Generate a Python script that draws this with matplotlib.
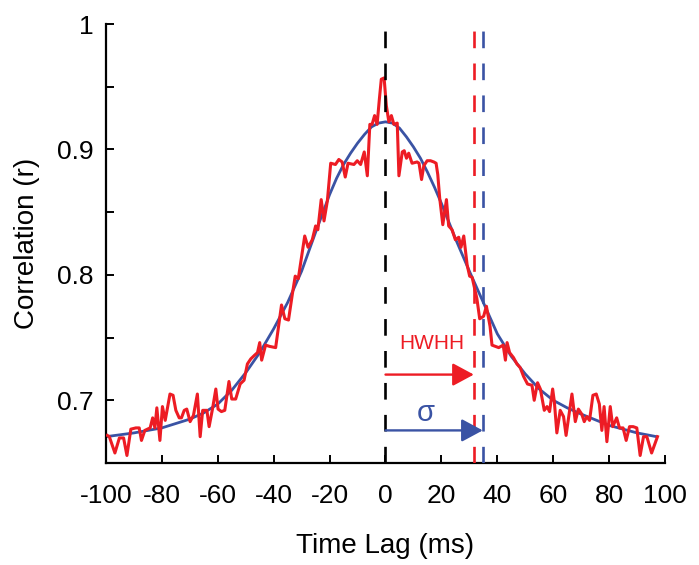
import matplotlib
matplotlib.use("Agg")
import matplotlib.pyplot as plt

plt.rcParams['font.family'] = ['Liberation Sans', 'DejaVu Sans']

# ---- data ----
red_x = [-99.5, -98.8, -96.8, -95.2, -93.7, -92.5, -91.1, -89.3, -88.1, -87.3, -86.1, -84.2, -83.3,
         -82.5, -81.8, -80.7, -79.8, -78.8, -77.1, -76.0, -75.0, -73.8, -73.0, -72.0, -71.1, -69.9,
         -68.7, -67.3, -66.3, -65.4, -63.9, -63.1, -61.9, -60.7, -59.9, -58.7, -57.5, -56.0, -55.0,
         -53.6, -52.0, -50.6, -49.4, -48.2, -46.8, -45.8, -45.0, -44.3, -42.9, -41.5, -39.3, -38.2,
         -37.2, -36.0, -34.7, -33.3, -32.3, -31.2, -30.0, -28.9, -27.7, -26.2, -25.0, -24.2, -23.0,
         -22.0, -20.8, -19.6, -17.9, -16.7, -15.5, -14.4, -13.4, -11.3, -10.1, -8.9, -7.6, -6.5,
         -5.6, -4.8, -3.9, -3.0, -2.2, -1.5, -0.5, 0.3, 1.2, 2.1, 3.0, 4.2, 4.8, 6.0, 6.7, 7.5, 8.3,
         9.5, 11.3, 12.0, 12.9, 13.7, 14.9, 16.1, 17.3, 18.1, 18.7, 19.4, 20.5, 21.8, 22.6, 23.8,
         25.0, 26.2, 27.0, 28.0, 29.2, 30.1, 31.0, 31.8, 32.7, 33.7, 35.1, 36.1, 37.4, 38.1, 40.5,
         42.1, 42.9, 43.5, 44.4, 45.8, 47.0, 48.2, 49.4, 50.8, 52.4, 53.2, 54.4, 55.4, 56.8, 57.8,
         58.7, 59.8, 60.4, 61.3, 62.5, 63.7, 64.6, 66.7, 67.9, 69.0, 70.2, 71.1, 72.0, 73.0, 74.2,
         75.4, 76.5, 77.4, 78.2, 79.2, 80.4, 81.3, 82.7, 83.7, 85.0, 86.1, 87.3, 88.6, 89.9, 91.1,
         92.3, 93.5, 95.2, 97.3]
red_y = [0.672, 0.671, 0.658, 0.670, 0.670, 0.656, 0.677, 0.678, 0.678, 0.668, 0.676, 0.678, 0.686,
         0.678, 0.694, 0.668, 0.695, 0.684, 0.705, 0.704, 0.692, 0.686, 0.686, 0.692, 0.693, 0.683,
         0.688, 0.705, 0.671, 0.692, 0.692, 0.679, 0.693, 0.709, 0.693, 0.691, 0.692, 0.715, 0.701,
         0.701, 0.713, 0.716, 0.729, 0.733, 0.736, 0.738, 0.746, 0.732, 0.744, 0.743, 0.742, 0.760,
         0.776, 0.765, 0.764, 0.785, 0.799, 0.797, 0.815, 0.831, 0.822, 0.828, 0.839, 0.836, 0.860,
         0.843, 0.859, 0.889, 0.888, 0.892, 0.890, 0.878, 0.889, 0.888, 0.891, 0.888, 0.898, 0.879,
         0.920, 0.920, 0.927, 0.920, 0.940, 0.956, 0.957, 0.935, 0.922, 0.927, 0.920, 0.921, 0.879,
         0.898, 0.899, 0.893, 0.897, 0.889, 0.890, 0.889, 0.876, 0.887, 0.891, 0.891, 0.890, 0.889,
         0.880, 0.861, 0.840, 0.860, 0.839, 0.836, 0.828, 0.830, 0.822, 0.831, 0.808, 0.799, 0.798,
         0.790, 0.781, 0.765, 0.767, 0.775, 0.759, 0.744, 0.742, 0.744, 0.732, 0.746, 0.738, 0.734,
         0.729, 0.726, 0.719, 0.713, 0.712, 0.700, 0.714, 0.709, 0.692, 0.695, 0.691, 0.709, 0.699,
         0.674, 0.692, 0.687, 0.672, 0.705, 0.683, 0.693, 0.689, 0.683, 0.687, 0.684, 0.704, 0.705,
         0.697, 0.676, 0.695, 0.667, 0.695, 0.679, 0.686, 0.678, 0.678, 0.668, 0.679, 0.679, 0.678,
         0.656, 0.671, 0.671, 0.658, 0.671]

blue_x = [-100, -90, -80, -70, -65, -60, -55, -50, -45, -40, -35, -30, -25, -20, -17.5, -15,
          -12.5, -10, -7.5, -5, -2.5, 0, 2.5, 5, 7.5, 10, 12.5, 15, 17.5, 20, 25, 30, 35, 40,
          45, 50, 55, 60, 65, 70, 80, 90, 97]
blue_y = [0.671, 0.674, 0.678, 0.685, 0.690, 0.697, 0.708, 0.722, 0.738, 0.757, 0.778, 0.803,
          0.834, 0.864, 0.877, 0.888, 0.897, 0.905, 0.912, 0.918, 0.921, 0.922, 0.921, 0.917,
          0.910, 0.902, 0.893, 0.882, 0.870, 0.857, 0.829, 0.803, 0.778, 0.753, 0.735, 0.721,
          0.709, 0.700, 0.694, 0.689, 0.680, 0.674, 0.671]

hwhh = 31.6
sigma = 34.8
hwhh_arrow_y = 0.7205
sigma_arrow_y = 0.676

x_ticks = [-100, -80, -60, -40, -20, 0, 20, 40, 60, 80, 100]
y_major = [0.7, 0.8, 0.9, 1.0]
y_major_labels = ['0.7', '0.8', '0.9', '1']
y_minor = [0.75, 0.85, 0.95]

RED = '#ed1c24'
BLUE = '#3a53a4'

fig = plt.figure(figsize=(6.99, 5.65), dpi=100)
ax = fig.add_axes([0.1516, 0.1805, 0.7998, 0.777])

ax.plot(blue_x, blue_y, color=BLUE, lw=2.0, zorder=2, solid_joinstyle='round')
ax.plot(red_x, red_y, color=RED, lw=2.2, zorder=3, solid_joinstyle='round')

dlw = 1.9
dash = (12.0 / dlw, 11.0 / dlw)
ax.axvline(0, color='black', lw=dlw, dashes=dash, zorder=4)
ax.axvline(hwhh, color=RED, lw=dlw, dashes=dash, zorder=4)
ax.axvline(sigma, color=BLUE, lw=dlw, dashes=dash, zorder=4)

ax.annotate('', xy=(hwhh, hwhh_arrow_y), xytext=(0, hwhh_arrow_y),
            arrowprops=dict(arrowstyle='-|>,head_length=0.65,head_width=0.35', mutation_scale=20,
                            color=RED, lw=1.7, shrinkA=0, shrinkB=0), zorder=5)
ax.annotate('', xy=(sigma, sigma_arrow_y), xytext=(0, sigma_arrow_y),
            arrowprops=dict(arrowstyle='-|>,head_length=0.65,head_width=0.35', mutation_scale=20,
                            color=BLUE, lw=1.7, shrinkA=0, shrinkB=0), zorder=5)
ax.text(16.5, 0.745, 'HWHH', color=RED, fontsize=15, ha='center', va='center')
ax.text(14.5, 0.690, 'σ', color=BLUE, fontsize=21, ha='center', va='center')

ax.set_xlim(-100, 100)
ax.set_ylim(0.65, 1.0)
ax.set_xticks(x_ticks)
ax.set_xticklabels([str(t) for t in x_ticks])
ax.set_yticks(y_major)
ax.set_yticklabels(y_major_labels)
ax.set_yticks(y_minor, minor=True)

for s in ['top', 'right']:
    ax.spines[s].set_visible(False)
for s in ['left', 'bottom']:
    ax.spines[s].set_linewidth(1.6)

ax.tick_params(axis='both', which='both', direction='in', width=1.4, length=6, labelsize=19)
ax.tick_params(axis='x', pad=15)
ax.tick_params(axis='y', pad=9)

ax.set_xlabel('Time Lag (ms)', fontsize=20, labelpad=18)
ax.set_ylabel('Correlation (r)', fontsize=20, labelpad=12)

fig.savefig('out.png', dpi=100)
